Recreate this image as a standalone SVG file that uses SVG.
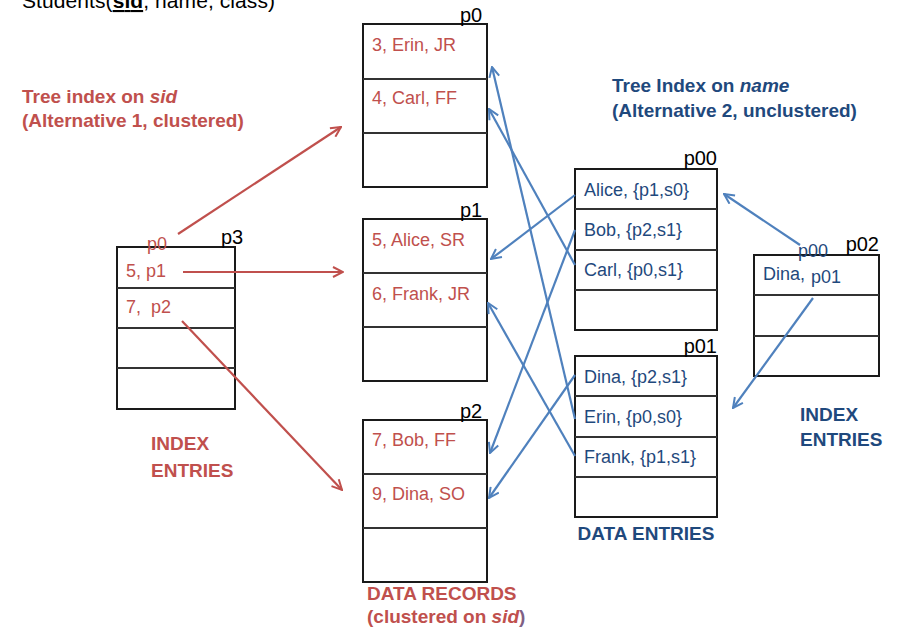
<svg xmlns="http://www.w3.org/2000/svg" width="899" height="628" viewBox="0 0 899 628">
  <style>
    text { font-family: "Liberation Sans", Arial, sans-serif; }
    .box { fill: #ffffff; stroke: #1a1a1a; stroke-width: 2; }
    .div { stroke: #333333; stroke-width: 2; }
    .plabel { font-size: 20px; fill: #000000; }
    .rec { font-size: 18px; fill: #C0504D; }
    .ent { font-size: 18px; fill: #1F497D; }
    .redh { font-size: 19px; font-weight: bold; fill: #C0504D; }
    .blueh { font-size: 19px; font-weight: bold; fill: #1F497D; }
    .red { stroke: #C0504D; stroke-width: 2.2; fill: none; marker-end: url(#ahRed); }
    .blue { stroke: #4F81BD; stroke-width: 2.2; fill: none; marker-end: url(#ahBlue); }
  </style>
  <defs>
    <marker id="ahRed" viewBox="0 0 12 12" refX="11" refY="6" markerWidth="12" markerHeight="12" markerUnits="userSpaceOnUse" orient="auto">
      <polyline points="1,1 11,6 1,11" fill="none" stroke="#C0504D" stroke-width="2"/>
    </marker>
    <marker id="ahBlue" viewBox="0 0 12 12" refX="11" refY="6" markerWidth="12" markerHeight="12" markerUnits="userSpaceOnUse" orient="auto">
      <polyline points="1,1 11,6 1,11" fill="none" stroke="#4F81BD" stroke-width="2"/>
    </marker>
  </defs>

  <rect width="899" height="628" fill="#ffffff"/>

  <!-- schema line along the top edge -->
  <text x="22" y="8" font-size="21" fill="#000" textLength="253">Students(<tspan text-decoration="underline" font-weight="bold">sid</tspan>, name, class)</text>

  <!-- headings -->
  <text class="redh" x="22" y="103">Tree index on <tspan font-style="italic">sid</tspan></text>
  <text class="redh" x="22" y="127">(Alternative 1, clustered)</text>
  <text class="blueh" x="612" y="92">Tree Index on <tspan font-style="italic">name</tspan></text>
  <text class="blueh" x="612" y="117">(Alternative 2, unclustered)</text>

  <!-- index page p3 (sid) -->
  <g id="p3">
    <rect class="box" x="117" y="247" width="118" height="162"/>
    <line class="div" x1="117" y1="288" x2="235" y2="288"/>
    <line class="div" x1="117" y1="328" x2="235" y2="328"/>
    <line class="div" x1="117" y1="368" x2="235" y2="368"/>
    <text class="plabel" x="221" y="244">p3</text>
    <text class="rec" font-size="20" x="147" y="250">p0</text>
    <text class="rec" x="126" y="277">5, p1</text>
    <text class="rec" x="126" y="313">7,&#160; p2</text>
  </g>
  <g id="idx-entries-left">
    <text class="redh" x="151" y="450">INDEX</text>
    <text class="redh" x="151" y="477">ENTRIES</text>
  </g>

  <!-- data pages -->
  <g id="p0">
    <rect class="box" x="363" y="24" width="124" height="163"/>
    <line class="div" x1="363" y1="79" x2="487" y2="79"/>
    <line class="div" x1="363" y1="133" x2="487" y2="133"/>
    <text class="plabel" x="460" y="22">p0</text>
    <text class="rec" x="372" y="51">3, Erin, JR</text>
    <text class="rec" x="372" y="104">4, Carl, FF</text>
  </g>
  <g id="p1">
    <rect class="box" x="363" y="219" width="124" height="162"/>
    <line class="div" x1="363" y1="273" x2="487" y2="273"/>
    <line class="div" x1="363" y1="327" x2="487" y2="327"/>
    <text class="plabel" x="460" y="217">p1</text>
    <text class="rec" x="372" y="246">5, Alice, SR</text>
    <text class="rec" x="372" y="300">6, Frank, JR</text>
  </g>
  <g id="p2">
    <rect class="box" x="363" y="420" width="124" height="162"/>
    <line class="div" x1="363" y1="474" x2="487" y2="474"/>
    <line class="div" x1="363" y1="528" x2="487" y2="528"/>
    <text class="plabel" x="460" y="418">p2</text>
    <text class="rec" x="372" y="446">7, Bob, FF</text>
    <text class="rec" x="372" y="500">9, Dina, SO</text>
  </g>
  <g id="data-records">
    <text class="redh" x="367" y="600">DATA RECORDS</text>
    <text class="redh" x="367" y="623">(clustered on <tspan font-style="italic">sid</tspan><tspan fill="#7F6084">)</tspan></text>
  </g>

  <!-- leaf pages of the name index -->
  <g id="p00">
    <rect class="box" x="575" y="169" width="142" height="161"/>
    <line class="div" x1="575" y1="209" x2="717" y2="209"/>
    <line class="div" x1="575" y1="250" x2="717" y2="250"/>
    <line class="div" x1="575" y1="290" x2="717" y2="290"/>
    <text class="plabel" x="717" y="165" text-anchor="end">p00</text>
    <text class="ent" x="584" y="196">Alice, {p1,s0}</text>
    <text class="ent" x="584" y="236">Bob, {p2,s1}</text>
    <text class="ent" x="584" y="276">Carl, {p0,s1}</text>
  </g>
  <g id="p01">
    <rect class="box" x="575" y="356" width="142" height="161"/>
    <line class="div" x1="575" y1="396" x2="717" y2="396"/>
    <line class="div" x1="575" y1="437" x2="717" y2="437"/>
    <line class="div" x1="575" y1="477" x2="717" y2="477"/>
    <text class="plabel" x="717" y="353" text-anchor="end">p01</text>
    <text class="ent" x="584" y="383">Dina, {p2,s1}</text>
    <text class="ent" x="584" y="423">Erin, {p0,s0}</text>
    <text class="ent" x="584" y="463">Frank, {p1,s1}</text>
  </g>
  <g id="data-entries">
    <text class="blueh" x="646" y="540" text-anchor="middle">DATA ENTRIES</text>
  </g>

  <!-- root page of the name index -->
  <g id="p02">
    <rect class="box" x="754" y="255" width="125" height="121"/>
    <line class="div" x1="754" y1="295" x2="879" y2="295"/>
    <line class="div" x1="754" y1="336" x2="879" y2="336"/>
    <text class="plabel" x="879" y="251" text-anchor="end">p02</text>
    <text class="ent" font-size="20" x="798" y="257">p00</text>
    <text class="ent" x="763" y="280">Dina,</text>
    <text class="ent" x="811" y="283">p01</text>
  </g>
  <g id="idx-entries-right">
    <text class="blueh" x="800" y="421">INDEX</text>
    <text class="blueh" x="800" y="446">ENTRIES</text>
  </g>

  <!-- connectors -->
  <g id="connectors">
    <line class="red" x1="178" y1="234" x2="341" y2="127"/>
    <line class="red" x1="183" y1="272" x2="343" y2="272"/>
    <line class="red" x1="182" y1="321" x2="342" y2="490"/>

    <line class="blue" x1="575" y1="195" x2="491" y2="259"/>
    <line class="blue" x1="575" y1="230" x2="490" y2="453"/>
    <line class="blue" x1="575" y1="265" x2="489" y2="109"/>
    <line class="blue" x1="575" y1="375" x2="489" y2="498"/>
    <line class="blue" x1="575" y1="419" x2="492" y2="67"/>
    <line class="blue" x1="575" y1="456" x2="488" y2="303"/>

    <line class="blue" x1="800" y1="245" x2="724" y2="194"/>
    <line class="blue" x1="813" y1="298" x2="733" y2="408"/>
  </g>
</svg>
